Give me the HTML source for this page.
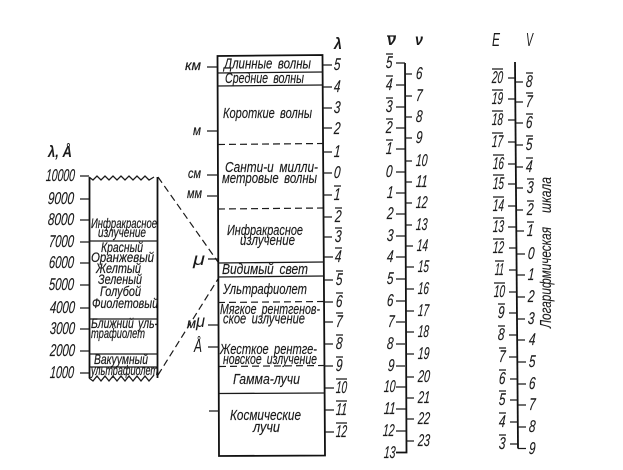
<!DOCTYPE html>
<html><head><meta charset="utf-8"><style>
html,body{margin:0;padding:0;background:#fff}
svg{display:block;filter:blur(.3px)}
text{font-family:"Liberation Sans",sans-serif;font-style:italic;fill:#1a1a1a}
.n{font-size:17px;stroke:#1a1a1a;stroke-width:.15;transform-box:fill-box;transform-origin:center;transform:skewX(-4deg)}
.t{font-size:15px;word-spacing:3px;stroke:#1a1a1a;stroke-width:.15}
.s{font-size:14px;word-spacing:2px;stroke:#1a1a1a;stroke-width:.2}
.v{font-size:16px;stroke:#1a1a1a;stroke-width:.1}
.h{font-size:16px;font-weight:bold}
.e{font-size:18px}
.l{fill:none;stroke:#1a1a1a;stroke-width:1.3}
.b{fill:none;stroke:#111;stroke-width:1.8}
.d{fill:none;stroke:#1a1a1a;stroke-width:1.2;stroke-dasharray:7 4}
</style></head><body>
<svg xmlns="http://www.w3.org/2000/svg" width="623" height="470" viewBox="0 0 623 470">
<!-- left box -->
<path class="b" d="M89.5 177V378M157.5 177V378"/>
<path class="l" d="M89 177l4 3 4-4 4 4 4-4 4 4 4-4 4 4 4-4 4 4 4-4 4 4 4-4 4 4 4-4 4 4 5-3"/>
<path class="l" d="M89 378l4 3 4-5 4 5 4-5 4 5 4-5 4 5 4-5 4 5 4-5 4 5 4-5 4 5 4-5 4 5 5-6"/>
<path class="l" d="M89 241H158M89 319H158M89 354H158M90 367H158"/>
<path class="l" d="M80 176H89M80 199H89M80 220H89M80 242H89M80 263H89M80 285H89M80 308H89M80 329H89M80 351H89M80 373H89"/>
<path class="d" d="M158 177L218 262M158 375L218 279"/>
<text class="n" x="46" y="181" textLength="29" lengthAdjust="spacingAndGlyphs">10000</text>
<text class="n" x="48" y="204" textLength="26" lengthAdjust="spacingAndGlyphs">9000</text>
<text class="n" x="48" y="225" textLength="26" lengthAdjust="spacingAndGlyphs">8000</text>
<text class="n" x="49" y="247" textLength="25" lengthAdjust="spacingAndGlyphs">7000</text>
<text class="n" x="49" y="268" textLength="25" lengthAdjust="spacingAndGlyphs">6000</text>
<text class="n" x="49" y="290" textLength="25" lengthAdjust="spacingAndGlyphs">5000</text>
<text class="n" x="50" y="313" textLength="25" lengthAdjust="spacingAndGlyphs">4000</text>
<text class="n" x="50" y="334" textLength="25" lengthAdjust="spacingAndGlyphs">3000</text>
<text class="n" x="50" y="356" textLength="25" lengthAdjust="spacingAndGlyphs">2000</text>
<text class="n" x="50" y="378" textLength="24" lengthAdjust="spacingAndGlyphs">1000</text>
<text class="h" x="48" y="157" textLength="24" lengthAdjust="spacingAndGlyphs">λ, Å</text>
<text class="s" x="91" y="228" textLength="66" lengthAdjust="spacingAndGlyphs">Инфракрасное</text>
<text class="s" x="98" y="237" textLength="48" lengthAdjust="spacingAndGlyphs">излучение</text>
<text class="s" x="101" y="252" textLength="42" lengthAdjust="spacingAndGlyphs">Красный</text>
<text class="s" x="91" y="262" textLength="63" lengthAdjust="spacingAndGlyphs">Оранжевый</text>
<text class="s" x="96" y="273" textLength="45" lengthAdjust="spacingAndGlyphs">Желтый</text>
<text class="s" x="98" y="284" textLength="44" lengthAdjust="spacingAndGlyphs">Зеленый</text>
<text class="s" x="100" y="296" textLength="41" lengthAdjust="spacingAndGlyphs">Голубой</text>
<text class="s" x="92" y="308" textLength="66" lengthAdjust="spacingAndGlyphs">Фиолетовый</text>
<text class="s" x="91" y="328" textLength="67" lengthAdjust="spacingAndGlyphs">Ближний уль-</text>
<text class="s" x="91" y="338" textLength="54" lengthAdjust="spacingAndGlyphs">трафиолет</text>
<text class="s" x="94" y="364" textLength="54" lengthAdjust="spacingAndGlyphs">Вакуумный</text>
<text class="s" x="91" y="375" textLength="67" lengthAdjust="spacingAndGlyphs">ультрафиолет</text>
<!-- main box -->
<path class="b" d="M217.5 56L219 456L325 455.5L322.5 55Z"/>
<path class="l" d="M217 73L323 72M217 86L323 85M218 263L324 262M218 277L324 276M219 393.500L325 393"/>
<path class="d" d="M218 144.500L323 143.500M218 209L323 208M218 302.500L324 301.500M219 366.500L325 365.500"/>
<path class="l" d="M207 67H217M207 131H217M207 175H217M207 196H217M208 259H218M208 325H219M208 347H219M209 411H219"/>
<path class="l" d="M323 65H332M323 87H332M323 108H332M323 128H332M323 152H332M323 173H332M323 195H332M323 217H332M323 237H332M324 257H333M324 280H333M324 302H333M325 322H333M325 344H333M325 366H333M325 388H334M325 410H334M325 432H334"/>
<text class="h" x="334" y="49" textLength="8" lengthAdjust="spacingAndGlyphs">λ</text>
<text class="s" x="185" y="70" textLength="16" lengthAdjust="spacingAndGlyphs">км</text>
<text class="s" x="193" y="135" textLength="8" lengthAdjust="spacingAndGlyphs">м</text>
<text class="s" x="188" y="178" textLength="13" lengthAdjust="spacingAndGlyphs">см</text>
<text class="s" x="187" y="198" textLength="15" lengthAdjust="spacingAndGlyphs">мм</text>
<text class="e" x="193" y="265" textLength="12" lengthAdjust="spacingAndGlyphs">μ</text>
<text class="s" x="187" y="328" textLength="9" lengthAdjust="spacingAndGlyphs">м</text>
<text class="e" x="196" y="327" textLength="9" lengthAdjust="spacingAndGlyphs">μ</text>
<text class="e" x="194" y="352" textLength="8" lengthAdjust="spacingAndGlyphs">Å</text>
<text class="t" x="224" y="68.500" textLength="87" lengthAdjust="spacingAndGlyphs">Длинные волны</text>
<text class="t" x="225" y="83" textLength="79" lengthAdjust="spacingAndGlyphs">Средние волны</text>
<text class="t" x="223" y="118" textLength="89" lengthAdjust="spacingAndGlyphs">Короткие волны</text>
<text class="t" x="225" y="172" textLength="93" lengthAdjust="spacingAndGlyphs">Санти-и милли-</text>
<text class="t" x="222" y="183" textLength="95" lengthAdjust="spacingAndGlyphs">метровые волны</text>
<text class="t" x="227" y="235" textLength="76" lengthAdjust="spacingAndGlyphs">Инфракрасное</text>
<text class="t" x="240" y="245" textLength="55" lengthAdjust="spacingAndGlyphs">излучение</text>
<text class="t" x="222" y="274" textLength="86" lengthAdjust="spacingAndGlyphs">Видимый свет</text>
<text class="t" x="223" y="294" textLength="84" lengthAdjust="spacingAndGlyphs">Ультрафиолет</text>
<text class="t" x="220" y="314" textLength="100" lengthAdjust="spacingAndGlyphs">Мягкое рентгенов-</text>
<text class="t" x="223" y="323.500" textLength="82" lengthAdjust="spacingAndGlyphs">ское излучение</text>
<text class="t" x="220" y="354" textLength="97" lengthAdjust="spacingAndGlyphs">Жесткое рентге-</text>
<text class="t" x="223" y="364" textLength="94" lengthAdjust="spacingAndGlyphs">новское излучение</text>
<text class="t" x="233" y="384" textLength="67" lengthAdjust="spacingAndGlyphs">Гамма-лучи</text>
<text class="t" x="230" y="420" textLength="71" lengthAdjust="spacingAndGlyphs">Космические</text>
<text class="t" x="253" y="432" textLength="27" lengthAdjust="spacingAndGlyphs">лучи</text>
<!-- lambda numbers -->
<text class="n" x="334" y="70" textLength="6.500" lengthAdjust="spacingAndGlyphs">5</text>
<text class="n" x="334" y="92" textLength="6.500" lengthAdjust="spacingAndGlyphs">4</text>
<text class="n" x="334" y="113" textLength="6.500" lengthAdjust="spacingAndGlyphs">3</text>
<text class="n" x="334" y="134" textLength="6.500" lengthAdjust="spacingAndGlyphs">2</text>
<text class="n" x="334" y="157" textLength="6.500" lengthAdjust="spacingAndGlyphs">1</text>
<text class="n" x="334" y="178" textLength="6.500" lengthAdjust="spacingAndGlyphs">0</text>
<text class="n" x="334" y="200" textLength="6.500" lengthAdjust="spacingAndGlyphs">1</text>
<text class="n" x="335" y="222" textLength="6.500" lengthAdjust="spacingAndGlyphs">2</text>
<text class="n" x="335" y="242" textLength="6.500" lengthAdjust="spacingAndGlyphs">3</text>
<text class="n" x="335" y="262" textLength="6.500" lengthAdjust="spacingAndGlyphs">4</text>
<text class="n" x="336" y="285" textLength="6.500" lengthAdjust="spacingAndGlyphs">5</text>
<text class="n" x="336" y="307" textLength="6.500" lengthAdjust="spacingAndGlyphs">6</text>
<text class="n" x="336" y="327" textLength="6.500" lengthAdjust="spacingAndGlyphs">7</text>
<text class="n" x="336" y="349" textLength="6.500" lengthAdjust="spacingAndGlyphs">8</text>
<text class="n" x="336" y="371" textLength="6.500" lengthAdjust="spacingAndGlyphs">9</text>
<text class="n" x="336" y="393" textLength="11" lengthAdjust="spacingAndGlyphs">10</text>
<text class="n" x="336" y="415" textLength="11" lengthAdjust="spacingAndGlyphs">11</text>
<text class="n" x="336" y="437" textLength="11" lengthAdjust="spacingAndGlyphs">12</text>
<path class="l" d="M334 186h7M335 208h7M335 228h7M335 248h7M336 271h7M336 293h7M336 313h7M336 335h7M336 357h7M336 379h11M336 401h11M336 423h11"/>
<!-- nu scale -->
<path class="b" d="M405 63L406.500 452.500H396"/>
<path class="l" d="M396 63H405M396 85H405M396 107H405M396 128H405M396 149H405M396 172H405M396 193H405M396 214H405M396 236H405M396 257H405M396 279H405M396 301H405M396 322H405M396 344H405M396 366H405M396 387H406M396 409H406M396 431H406"/>
<path class="l" d="M405 74H412M405 96H412M405 117H412M405 138H412M405 161H412M405 182H412M405 203H412M405 225H412M405 246H413M406 267H414M406 289H414M406 311H414M406 332H414M406 354H414M406 377H414M406 398H414M406 419H414M406 441H414"/>
<text class="h" x="387" y="45" textLength="9" lengthAdjust="spacingAndGlyphs">ν</text>
<text class="h" x="415" y="45" textLength="8" lengthAdjust="spacingAndGlyphs">ν</text>
<text class="n" x="386" y="68" textLength="6.500" lengthAdjust="spacingAndGlyphs">5</text>
<text class="n" x="386" y="90" textLength="6.500" lengthAdjust="spacingAndGlyphs">4</text>
<text class="n" x="386" y="112" textLength="6.500" lengthAdjust="spacingAndGlyphs">3</text>
<text class="n" x="386" y="133" textLength="6.500" lengthAdjust="spacingAndGlyphs">2</text>
<text class="n" x="386" y="154" textLength="6.500" lengthAdjust="spacingAndGlyphs">1</text>
<text class="n" x="386" y="177" textLength="6.500" lengthAdjust="spacingAndGlyphs">0</text>
<text class="n" x="387" y="198" textLength="6.500" lengthAdjust="spacingAndGlyphs">1</text>
<text class="n" x="387" y="219" textLength="6.500" lengthAdjust="spacingAndGlyphs">2</text>
<text class="n" x="387" y="241" textLength="6.500" lengthAdjust="spacingAndGlyphs">3</text>
<text class="n" x="387" y="262" textLength="6.500" lengthAdjust="spacingAndGlyphs">4</text>
<text class="n" x="387" y="284" textLength="6.500" lengthAdjust="spacingAndGlyphs">5</text>
<text class="n" x="387" y="306" textLength="6.500" lengthAdjust="spacingAndGlyphs">6</text>
<text class="n" x="388" y="327" textLength="6.500" lengthAdjust="spacingAndGlyphs">7</text>
<text class="n" x="387" y="349" textLength="6.500" lengthAdjust="spacingAndGlyphs">8</text>
<text class="n" x="388" y="371" textLength="6.500" lengthAdjust="spacingAndGlyphs">9</text>
<text class="n" x="384" y="392" textLength="11.500" lengthAdjust="spacingAndGlyphs">10</text>
<text class="n" x="384" y="414" textLength="11.500" lengthAdjust="spacingAndGlyphs">11</text>
<text class="n" x="383" y="436" textLength="11.500" lengthAdjust="spacingAndGlyphs">12</text>
<text class="n" x="384" y="458" textLength="11.500" lengthAdjust="spacingAndGlyphs">13</text>
<path class="l" d="M387 36h9M386 54h7M386 76h7M386 98h7M386 119h7M386 140h7"/>
<text class="n" x="416" y="79" textLength="6.500" lengthAdjust="spacingAndGlyphs">6</text>
<text class="n" x="416" y="101" textLength="6.500" lengthAdjust="spacingAndGlyphs">7</text>
<text class="n" x="416" y="122" textLength="6.500" lengthAdjust="spacingAndGlyphs">8</text>
<text class="n" x="416" y="143" textLength="6.500" lengthAdjust="spacingAndGlyphs">9</text>
<text class="n" x="416" y="166" textLength="11.500" lengthAdjust="spacingAndGlyphs">10</text>
<text class="n" x="416" y="187" textLength="11.500" lengthAdjust="spacingAndGlyphs">11</text>
<text class="n" x="416" y="208" textLength="11.500" lengthAdjust="spacingAndGlyphs">12</text>
<text class="n" x="416" y="230" textLength="11.500" lengthAdjust="spacingAndGlyphs">13</text>
<text class="n" x="417" y="251" textLength="11" lengthAdjust="spacingAndGlyphs">14</text>
<text class="n" x="418" y="272" textLength="11" lengthAdjust="spacingAndGlyphs">15</text>
<text class="n" x="418" y="294" textLength="11" lengthAdjust="spacingAndGlyphs">16</text>
<text class="n" x="418" y="316" textLength="11" lengthAdjust="spacingAndGlyphs">17</text>
<text class="n" x="418" y="337" textLength="11" lengthAdjust="spacingAndGlyphs">18</text>
<text class="n" x="418" y="359" textLength="11.500" lengthAdjust="spacingAndGlyphs">19</text>
<text class="n" x="418" y="382" textLength="12" lengthAdjust="spacingAndGlyphs">20</text>
<text class="n" x="418" y="403" textLength="12" lengthAdjust="spacingAndGlyphs">21</text>
<text class="n" x="418" y="424" textLength="12" lengthAdjust="spacingAndGlyphs">22</text>
<text class="n" x="418" y="446" textLength="12" lengthAdjust="spacingAndGlyphs">23</text>
<!-- E V scale -->
<path class="b" d="M515 62L518 448.500"/>
<path class="l" d="M508 78H515M508 99H515M508 120H515M508 142H515M508 164H516M508 184H516M508 206H516M508 227H516M509 248H516M509 270H517M509 292H517M509 313H517M509 335H517M509 357H517M510 379H518M510 400H518M510 422H518M510 444H518"/>
<path class="l" d="M516 82H523M516 102H523M516 123H523M516 145H523M516 167H523M516 188H523M516 210H523M517 231H524M517 254H525M517 275H525M517 297H525M517 319H525M517 340H525M518 362H526M518 384H526M518 405H526M518 427H526M518 448.500H526"/>
<text class="e" x="492" y="46" textLength="8" lengthAdjust="spacingAndGlyphs">E</text>
<text class="e" x="526" y="46" textLength="7" lengthAdjust="spacingAndGlyphs">V</text>
<text class="n" x="492" y="83" textLength="11" lengthAdjust="spacingAndGlyphs">20</text>
<text class="n" x="492" y="104" textLength="11" lengthAdjust="spacingAndGlyphs">19</text>
<text class="n" x="492" y="125" textLength="11" lengthAdjust="spacingAndGlyphs">18</text>
<text class="n" x="492" y="147" textLength="11" lengthAdjust="spacingAndGlyphs">17</text>
<text class="n" x="493" y="169" textLength="11" lengthAdjust="spacingAndGlyphs">16</text>
<text class="n" x="493" y="189" textLength="11" lengthAdjust="spacingAndGlyphs">15</text>
<text class="n" x="493" y="211" textLength="11" lengthAdjust="spacingAndGlyphs">14</text>
<text class="n" x="493" y="232" textLength="11" lengthAdjust="spacingAndGlyphs">13</text>
<text class="n" x="493" y="253" textLength="11" lengthAdjust="spacingAndGlyphs">12</text>
<text class="n" x="495" y="275" textLength="9" lengthAdjust="spacingAndGlyphs">11</text>
<text class="n" x="494" y="297" textLength="11" lengthAdjust="spacingAndGlyphs">10</text>
<text class="n" x="498" y="318" textLength="6.500" lengthAdjust="spacingAndGlyphs">9</text>
<text class="n" x="498" y="340" textLength="6.500" lengthAdjust="spacingAndGlyphs">8</text>
<text class="n" x="499" y="362" textLength="6.500" lengthAdjust="spacingAndGlyphs">7</text>
<text class="n" x="499" y="384" textLength="6.500" lengthAdjust="spacingAndGlyphs">6</text>
<text class="n" x="499" y="405" textLength="6.500" lengthAdjust="spacingAndGlyphs">5</text>
<text class="n" x="499" y="427" textLength="6.500" lengthAdjust="spacingAndGlyphs">4</text>
<text class="n" x="499" y="449" textLength="6.500" lengthAdjust="spacingAndGlyphs">3</text>
<path class="l" d="M492 69h11M492 90h11M492 111h11M492 133h11M493 155h11M493 175h11M493 197h11M493 218h11M493 239h11M495 261h9M494 283h11M498 304h7M498 326h7M499 348h7M499 370h7M499 391h7M499 413h7M499 435h7"/>
<text class="n" x="526" y="87" textLength="6.500" lengthAdjust="spacingAndGlyphs">8</text>
<text class="n" x="526" y="107" textLength="6.500" lengthAdjust="spacingAndGlyphs">7</text>
<text class="n" x="526" y="128" textLength="6.500" lengthAdjust="spacingAndGlyphs">6</text>
<text class="n" x="526" y="150" textLength="6.500" lengthAdjust="spacingAndGlyphs">5</text>
<text class="n" x="526" y="172" textLength="6.500" lengthAdjust="spacingAndGlyphs">4</text>
<text class="n" x="527" y="193" textLength="6.500" lengthAdjust="spacingAndGlyphs">3</text>
<text class="n" x="527" y="215" textLength="6.500" lengthAdjust="spacingAndGlyphs">2</text>
<text class="n" x="527" y="236" textLength="6.500" lengthAdjust="spacingAndGlyphs">1</text>
<text class="n" x="528" y="259" textLength="6.500" lengthAdjust="spacingAndGlyphs">0</text>
<text class="n" x="528" y="280" textLength="6.500" lengthAdjust="spacingAndGlyphs">1</text>
<text class="n" x="528" y="302" textLength="6.500" lengthAdjust="spacingAndGlyphs">2</text>
<text class="n" x="528" y="324" textLength="6.500" lengthAdjust="spacingAndGlyphs">3</text>
<text class="n" x="529" y="345" textLength="6.500" lengthAdjust="spacingAndGlyphs">4</text>
<text class="n" x="529" y="367" textLength="6.500" lengthAdjust="spacingAndGlyphs">5</text>
<text class="n" x="529" y="389" textLength="6.500" lengthAdjust="spacingAndGlyphs">6</text>
<text class="n" x="529" y="410" textLength="6.500" lengthAdjust="spacingAndGlyphs">7</text>
<text class="n" x="529" y="432" textLength="6.500" lengthAdjust="spacingAndGlyphs">8</text>
<text class="n" x="529" y="454" textLength="6.500" lengthAdjust="spacingAndGlyphs">9</text>
<path class="l" d="M526 73h7M526 93h7M526 114h7M526 136h7M526 158h7M527 179h7M527 201h7M527 222h7"/>
<text class="v" transform="translate(551 328) rotate(-90)" x="0" y="0" textLength="101" lengthAdjust="spacingAndGlyphs">Логарифмическая</text>
<text class="v" transform="translate(551 213) rotate(-90)" x="0" y="0" textLength="36" lengthAdjust="spacingAndGlyphs">шкала</text>
</svg>
</body></html>
